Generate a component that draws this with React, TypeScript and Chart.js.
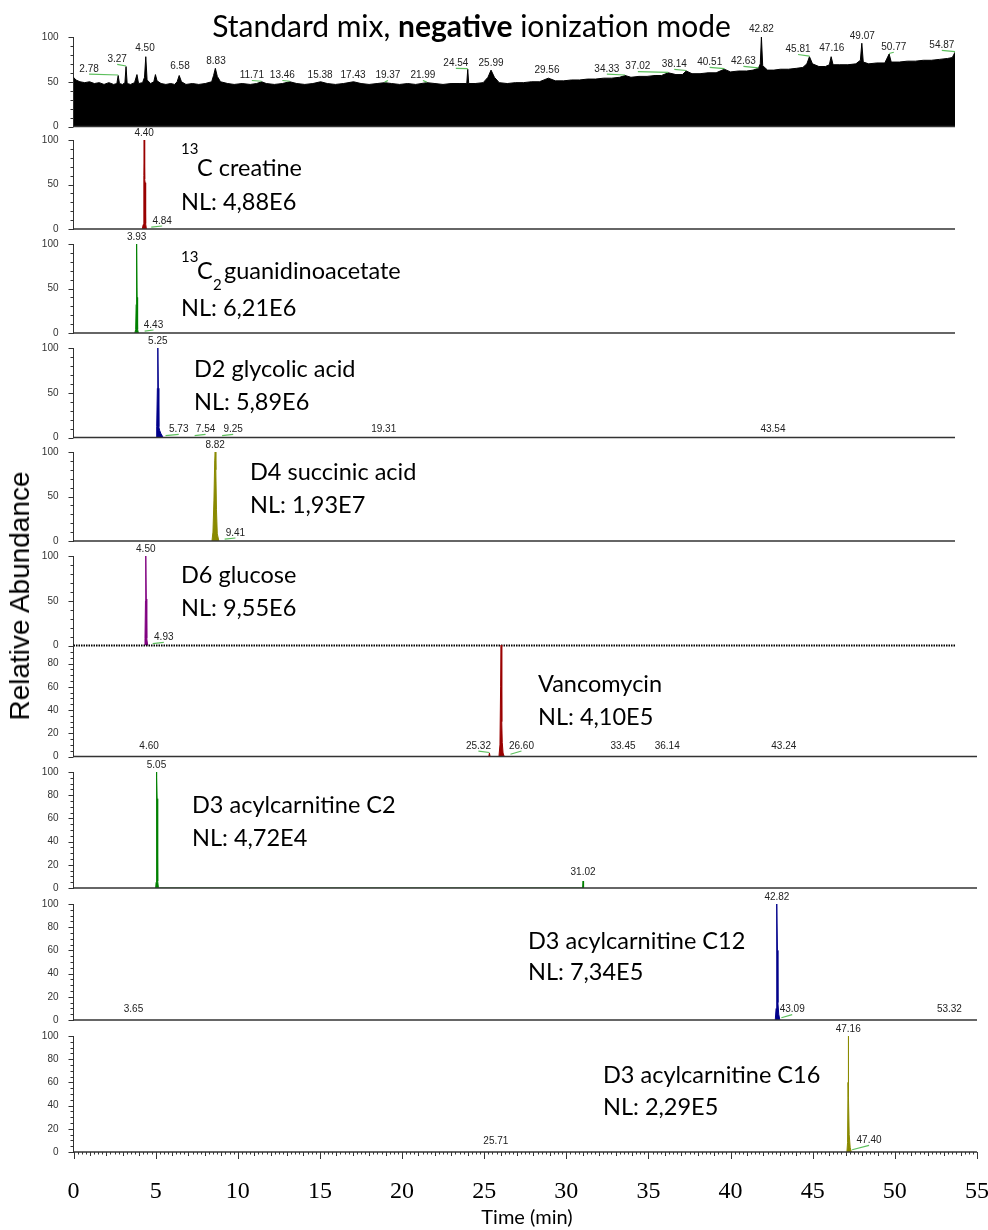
import React, { useEffect, useRef } from "react";
import { Chart, registerables } from "chart.js";
Chart.register(...registerables);

// ================= DATA =================
// Total ion chromatogram (top panel), time in min, relative abundance
const ticTimes = [0, 0.15, 0.4, 0.7, 1.0, 1.3, 1.6, 1.9, 2.2, 2.5, 2.7, 2.78, 2.86, 3.05, 3.2, 3.27, 3.34, 3.55, 3.8, 3.95, 4.05, 4.3, 4.42, 4.5, 4.58, 4.8, 5.0, 5.1, 5.2, 5.45, 5.75, 6.05, 6.3, 6.45, 6.58, 6.72, 7.0, 7.4, 7.8, 8.2, 8.6, 8.72, 8.83, 8.95, 9.15, 9.6, 10.0, 10.5, 11.0, 11.4, 11.71, 12.0, 12.5, 13.0, 13.46, 13.9, 14.4, 14.9, 15.38, 15.8, 16.3, 16.8, 17.43, 17.9, 18.4, 18.9, 19.37, 19.8, 20.3, 20.8, 21.3, 21.99, 22.5, 23.0, 23.5, 24.0, 24.48, 24.54, 24.6, 25.0, 25.5, 25.8, 25.99, 26.2, 26.5, 27.0, 27.5, 28.0, 28.5, 29.0, 29.56, 30.0, 30.5, 31.0, 31.5, 32.0, 32.5, 33.0, 33.5, 34.0, 34.33, 34.7, 35.2, 35.7, 36.2, 36.6, 37.02, 37.5, 37.9, 38.14, 38.5, 39.0, 39.5, 40.0, 40.51, 40.9, 41.4, 41.9, 42.3, 42.63, 42.75, 42.82, 42.9, 43.2, 43.6, 44.0, 44.5, 45.0, 45.4, 45.65, 45.81, 46.0, 46.4, 46.8, 47.05, 47.16, 47.28, 47.7, 48.2, 48.7, 48.98, 49.07, 49.16, 49.5, 50.0, 50.5, 50.77, 50.9, 51.4, 51.9, 52.4, 52.9, 53.4, 53.9, 54.4, 54.7, 54.87];
const ticValues = [55, 52, 50, 49, 50, 48, 49, 47, 49, 47, 48, 57, 48, 47, 49, 67, 48, 47, 49, 58, 48, 49, 55, 78, 52, 48, 50, 58, 51, 48, 47, 48, 47, 50, 57, 50, 47, 48, 47, 48, 50, 57, 65, 56, 50, 48, 47, 48, 47, 48, 50, 48, 47, 48, 50, 48, 47, 48, 50, 48, 47, 48, 50, 48, 47, 48, 49, 48, 47, 48, 47, 49, 48, 47, 48, 48, 48, 64, 48, 48, 49, 55, 63, 55, 49, 48, 49, 49, 50, 50, 54, 51, 51, 52, 52, 53, 53, 54, 54, 55, 57, 55, 56, 56, 57, 57, 60, 58, 58, 62, 59, 59, 60, 60, 64, 61, 62, 62, 63, 65, 70, 100, 68, 63, 63, 64, 64, 65, 66, 70, 78, 70, 67, 67, 69, 78, 69, 69, 69, 70, 74, 93, 72, 70, 71, 71, 81, 72, 72, 73, 73, 74, 74, 75, 76, 77, 83];
const ticPeakLabels = [2.78, 3.27, 4.5, 6.58, 8.83, 11.71, 13.46, 15.38, 17.43, 19.37, 21.99, 24.54, 25.99, 29.56, 34.33, 37.02, 38.14, 40.51, 42.63, 42.82, 45.81, 47.16, 49.07, 50.77, 54.87];

// 13C creatine
const creatineTimes = [4.28, 4.34, 4.38, 4.4, 4.43, 4.46, 4.49, 4.54];
const creatineValues = [0, 5, 60, 100, 56, 52, 6, 0];
const creatinePeakLabels = [4.4, 4.84];

// 13C2 guanidinoacetate
const gaaTimes = [3.82, 3.87, 3.9, 3.93, 3.96, 3.99, 4.04];
const gaaValues = [0, 4, 32, 100, 40, 4, 0];
const gaaPeakLabels = [3.93, 4.43];

// D2 glycolic acid
const glycolicTimes = [5.14, 5.18, 5.22, 5.25, 5.28, 5.31, 5.36, 5.45, 5.55, 5.6];
const glycolicValues = [0, 12, 55, 100, 55, 12, 8, 4, 1, 0];
const glycolicPeakLabels = [5.25, 5.73, 7.54, 9.25, 19.31, 43.54];

// D4 succinic acid
const succinicTimes = [8.62, 8.68, 8.74, 8.79, 8.82, 8.86, 8.9, 8.95, 9.05];
const succinicValues = [0, 10, 45, 90, 100, 80, 35, 8, 0];
const succinicPeakLabels = [8.82, 9.41];

// D6 glucose
const glucoseTimes = [4.4, 4.45, 4.48, 4.5, 4.53, 4.56, 4.62];
const glucoseValues = [0, 8, 50, 100, 52, 8, 0];
const glucosePeakLabels = [4.5, 4.93];

// Vancomycin
const vancoTimes = [25.28, 25.32, 25.36, 25.9, 25.96, 26.0, 26.03, 26.07, 26.1, 26.15, 26.22];
const vancoValues = [0, 3, 0, 0, 10, 60, 100, 30, 12, 3, 0];
const vancoPeakLabels = [4.6, 25.32, 26.6, 33.45, 36.14, 43.24];

// D3 acylcarnitine C2
const c2Times = [5.0, 5.03, 5.05, 5.07, 5.09, 5.11, 5.14, 5.17, 30.99, 31.02, 31.05];
const c2Values = [0, 5, 100, 95, 77, 8, 6, 0, 0, 6, 0];
const c2PeakLabels = [5.05, 31.02];

// D3 acylcarnitine C12
const c12Times = [42.72, 42.77, 42.8, 42.82, 42.85, 42.88, 42.93, 43.0];
const c12Values = [0, 10, 60, 100, 60, 15, 5, 0];
const c12PeakLabels = [3.65, 42.82, 43.09, 53.32];

// D3 acylcarnitine C16
const c16Times = [47.08, 47.12, 47.15, 47.16, 47.19, 47.22, 47.28, 47.35];
const c16Values = [0, 8, 60, 100, 47, 15, 4, 0];
const c16PeakLabels = [25.71, 47.16, 47.4];

// Axis tick labels
const yTicksSmall = [0, 50, 100];
const yTicksLarge = [0, 20, 40, 60, 80, 100];
const xTickLabels = [0, 5, 10, 15, 20, 25, 30, 35, 40, 45, 50, 55];

// ================= LABEL PLACEMENT (data coords: [time, value]) =================
const ticLabelPlace: [number, number][] = [
  [0.97, 64], [2.72, 75], [4.45, 87], [6.63, 67], [8.87, 73], [11.1, 57], [13.0, 57], [15.35, 57],
  [17.4, 57], [19.57, 57], [21.75, 57], [23.8, 70.5], [25.99, 71], [29.47, 63], [33.2, 64], [35.13, 67],
  [37.4, 69.4], [39.6, 71.7], [41.7, 72.8], [42.82, 108.6], [45.1, 86], [47.2, 87], [49.1, 101], [51.06, 88.5], [54.05, 90.7],
];
const creatinePlace: [number, number][] = [[4.4, 108], [5.52, 9]];
const gaaPlace: [number, number][] = [[3.93, 108], [4.98, 9]];
const glycolicPlace: [number, number][] = [[5.25, 108], [6.55, 9], [8.22, 9], [9.94, 9], [19.31, 9], [43.54, 9]];
const succinicPlace: [number, number][] = [[8.82, 108], [10.08, 9]];
const glucosePlace: [number, number][] = [[4.5, 108], [5.62, 9]];
const vancoPlace: [number, number][] = [[4.6, 9], [24.65, 9], [27.27, 9], [33.45, 9], [36.14, 9], [43.24, 9]];
const c2Place: [number, number][] = [[5.05, 106], [31.02, 14]];
const c12Place: [number, number][] = [[3.65, 9], [42.82, 106], [43.75, 9], [53.32, 9]];
const c16Place: [number, number][] = [[25.71, 9], [47.16, 106], [48.43, 10]];

// ================= STYLE =================
const C_RED = "#9a0000";
const C_GREEN = "#008000";
const C_NAVY = "#00008b";
const C_OLIVE = "#8a8a00";
const C_PURPLE = "#800080";
const C_LEAD = "#5cbf5c";
const AXIS = "#333333";
const LEFT = 73.5;
const PAD_TOP = 18;
const X_AXIS_H = 50;

type PanelCfg = {
  top: number; bottom: number; right: number; xMax: number; yMax: number;
  yTicks: number[]; yMinor: number; color: string;
  times: number[]; values: number[]; peaks: number[]; place: [number, number][];
  dotted?: boolean; bottomAxis?: boolean;
};

const panels: PanelCfg[] = [
  { top: 36.5, bottom: 126, right: 955, xMax: 54.87, yMax: 100, yTicks: yTicksSmall, yMinor: 10, color: "#000000", times: ticTimes, values: ticValues, peaks: ticPeakLabels, place: ticLabelPlace },
  { top: 140, bottom: 229, right: 955, xMax: 54.87, yMax: 100, yTicks: yTicksSmall, yMinor: 10, color: C_RED, times: creatineTimes, values: creatineValues, peaks: creatinePeakLabels, place: creatinePlace },
  { top: 244, bottom: 333, right: 955, xMax: 54.87, yMax: 100, yTicks: yTicksSmall, yMinor: 10, color: C_GREEN, times: gaaTimes, values: gaaValues, peaks: gaaPeakLabels, place: gaaPlace },
  { top: 347.5, bottom: 437, right: 955, xMax: 54.87, yMax: 100, yTicks: yTicksSmall, yMinor: 10, color: C_NAVY, times: glycolicTimes, values: glycolicValues, peaks: glycolicPeakLabels, place: glycolicPlace },
  { top: 452, bottom: 541, right: 955, xMax: 54.87, yMax: 100, yTicks: yTicksSmall, yMinor: 10, color: C_OLIVE, times: succinicTimes, values: succinicValues, peaks: succinicPeakLabels, place: succinicPlace },
  { top: 555.5, bottom: 645, right: 955, xMax: 54.87, yMax: 100, yTicks: yTicksSmall, yMinor: 10, color: C_PURPLE, times: glucoseTimes, values: glucoseValues, peaks: glucosePeakLabels, place: glucosePlace, dotted: true },
  { top: 645, bottom: 756.5, right: 977, xMax: 55, yMax: 96, yTicks: yTicksLarge, yMinor: 5, color: C_RED, times: vancoTimes, values: vancoValues, peaks: vancoPeakLabels, place: vancoPlace },
  { top: 772, bottom: 888, right: 977, xMax: 55, yMax: 100, yTicks: yTicksLarge, yMinor: 5, color: C_GREEN, times: c2Times, values: c2Values, peaks: c2PeakLabels, place: c2Place },
  { top: 904, bottom: 1020, right: 977, xMax: 55, yMax: 100, yTicks: yTicksLarge, yMinor: 5, color: C_NAVY, times: c12Times, values: c12Values, peaks: c12PeakLabels, place: c12Place },
  { top: 1036, bottom: 1152, right: 977, xMax: 55, yMax: 100, yTicks: yTicksLarge, yMinor: 5, color: C_OLIVE, times: c16Times, values: c16Values, peaks: c16PeakLabels, place: c16Place, bottomAxis: true },
];

function apexAt(cfg: PanelCfg, t: number): number {
  let best = -1, bd = 1e9;
  cfg.times.forEach((x, i) => { const d = Math.abs(x - t); if (d < bd) { bd = d; best = i; } });
  if (best >= 0 && bd < 0.03 && cfg.values[best] > 1.5) return cfg.values[best];
  return 1.5;
}

function canvasHeight(cfg: PanelCfg) {
  return Math.round(PAD_TOP + (cfg.bottom - cfg.top) + 8 + (cfg.bottomAxis ? X_AXIS_H : 0));
}

function Panel({ cfg }: { cfg: PanelCfg }) {
  const ref = useRef<HTMLCanvasElement | null>(null);
  const h = canvasHeight(cfg);
  const padBottom = h - PAD_TOP - (cfg.bottom - cfg.top) - (cfg.bottomAxis ? X_AXIS_H : 0);
  useEffect(() => {
    const canvas = ref.current;
    if (!canvas) return;
    const points = cfg.times.map((t, i) => ({ x: t, y: cfg.values[i] }));
    const yStep = cfg.yTicks[1] - cfg.yTicks[0];
    const decor = {
      id: "decor",
      afterDatasetsDraw(chart: any) {
        const { ctx, chartArea } = chart;
        const xs = chart.scales.x, ys = chart.scales.y;
        ctx.save();
        // baseline
        const y0 = ys.getPixelForValue(0);
        ctx.strokeStyle = cfg.dotted ? "#000" : AXIS;
        ctx.lineWidth = cfg.dotted ? 2 : 1.6;
        if (cfg.dotted) ctx.setLineDash([1.5, 1]);
        ctx.beginPath();
        ctx.moveTo(chartArea.left, y0);
        ctx.lineTo(chartArea.right, y0);
        ctx.stroke();
        ctx.setLineDash([]);
        // y tick marks
        ctx.strokeStyle = AXIS;
        ctx.lineWidth = 1;
        for (let v = 0; v <= cfg.yMax + 1e-6; v += cfg.yMinor) {
          const py = Math.round(ys.getPixelForValue(v)) + 0.5;
          const major = Math.abs(v / yStep - Math.round(v / yStep)) < 1e-6;
          const len = major ? 5 : 3;
          ctx.beginPath();
          ctx.moveTo(chartArea.left - len, py);
          ctx.lineTo(chartArea.left, py);
          ctx.stroke();
        }
        // x tick marks (bottom panel)
        if (cfg.bottomAxis) {
          for (let k = 0; k <= cfg.xMax * 4 + 1e-6; k++) {
            const t = k / 4;
            const px = Math.round(xs.getPixelForValue(t)) + 0.5;
            const len = k % 20 === 0 ? 7 : k % 4 === 0 ? 4 : 2.5;
            ctx.beginPath();
            ctx.moveTo(px, y0);
            ctx.lineTo(px, y0 + len);
            ctx.stroke();
          }
        }
        // peak labels
        ctx.font = '10px "Liberation Sans", Arial, sans-serif';
        ctx.textAlign = "center";
        ctx.textBaseline = "middle";
        cfg.peaks.forEach((t, i) => {
          const [lt, lv] = cfg.place[i];
          const apex = apexAt(cfg, t);
          const px = xs.getPixelForValue(t), py = ys.getPixelForValue(apex);
          const lx = xs.getPixelForValue(lt), ly = ys.getPixelForValue(lv);
          if (Math.abs(lx - px) > 3) {
            ctx.strokeStyle = C_LEAD;
            ctx.lineWidth = 1.2;
            ctx.beginPath();
            ctx.moveTo(lx, ly + 5);
            ctx.lineTo(px, py - 0.5);
            ctx.stroke();
          }
          ctx.fillStyle = "#222";
          ctx.fillText(t.toFixed(2), lx, ly);
        });
        ctx.restore();
      },
    };
    const chart = new Chart(canvas, {
      type: "line",
      data: {
        datasets: [{
          data: points,
          borderColor: cfg.color,
          backgroundColor: cfg.color,
          fill: "origin",
          borderWidth: 1,
          pointRadius: 0,
          tension: 0,
        }],
      },
      options: {
        animation: false,
        responsive: false,
        maintainAspectRatio: false,
        events: [],
        layout: { padding: { top: PAD_TOP, bottom: padBottom, left: 0, right: 988 - cfg.right } },
        plugins: { legend: { display: false }, tooltip: { enabled: false } },
        scales: {
          x: {
            type: "linear",
            min: 0,
            max: cfg.xMax,
            display: !!cfg.bottomAxis,
            grid: { display: false },
            border: { display: false },
            afterBuildTicks: (s: any) => { s.ticks = xTickLabels.map((v) => ({ value: v })); },
            afterFit: (s: any) => {
              s.height = cfg.bottomAxis ? X_AXIS_H : 0;
              s.paddingLeft = 0; s.paddingRight = 0;
            },
            ticks: {
              autoSkip: false,
              maxRotation: 0,
              padding: 17,
              color: "#000",
              font: { family: '"Liberation Serif", "Times New Roman", serif', size: 24 },
              callback: (v: any) => String(v),
            },
          },
          y: {
            min: 0,
            max: cfg.yMax,
            afterBuildTicks: (s: any) => { s.ticks = cfg.yTicks.filter((v) => v <= cfg.yMax).map((v) => ({ value: v })); },
            afterFit: (s: any) => { s.width = LEFT; s.paddingTop = 0; s.paddingBottom = 0; },
            grid: { display: false },
            border: { display: true, color: AXIS, width: 1 },
            ticks: {
              autoSkip: false,
              padding: 7,
              color: "#333",
              font: { family: '"Liberation Sans", Arial, sans-serif', size: 10 },
              callback: (v: any) => String(v),
            },
          },
        },
      },
      plugins: [decor],
    } as any);
    return () => chart.destroy();
  }, [cfg]);
  return (
    <canvas
      ref={ref}
      width={988}
      height={h}
      style={{ position: "absolute", left: 0, top: cfg.top - PAD_TOP, width: 988, height: h, display: "block" }}
    />
  );
}

const FONT = 'Lato, "Open Sans", sans-serif';
const LBL = 23.5;

function Txt({ x, y, size, children }: { x: number; y: number; size: number; children: any }) {
  return (
    <div style={{ position: "absolute", left: x, top: y, transform: "translateY(-50%)", fontFamily: FONT, fontSize: size, lineHeight: 1, whiteSpace: "nowrap", color: "#000" }}>
      {children}
    </div>
  );
}

export default function App() {
  return (
    <div style={{ position: "absolute", left: 0, top: 0, width: 988, height: 1230, background: "#fff", overflow: "hidden" }}>
      {panels.map((p, i) => <Panel key={i} cfg={p} />)}

      <div style={{ position: "absolute", left: 471.5, top: 25, transform: "translate(-50%, -50%)", fontFamily: FONT, fontSize: 30, lineHeight: 1, whiteSpace: "nowrap", color: "#000" }}>
        Standard mix, <b>negative</b> ionization mode
      </div>

      <Txt x={181} y={148} size={15}>13</Txt>
      <Txt x={197} y={168} size={LBL}>C creatine</Txt>
      <Txt x={181} y={202} size={LBL}>NL: 4,88E6</Txt>

      <Txt x={181} y={256} size={15}>13</Txt>
      <Txt x={197} y={271} size={LBL}>C</Txt>
      <Txt x={213} y={284} size={15}>2</Txt>
      <Txt x={224} y={271} size={LBL}>guanidinoacetate</Txt>
      <Txt x={181} y={308} size={LBL}>NL: 6,21E6</Txt>

      <Txt x={194} y={369} size={LBL}>D2 glycolic acid</Txt>
      <Txt x={194} y={402} size={LBL}>NL: 5,89E6</Txt>

      <Txt x={250} y={472} size={LBL}>D4 succinic acid</Txt>
      <Txt x={250} y={505} size={LBL}>NL: 1,93E7</Txt>

      <Txt x={181} y={575} size={LBL}>D6 glucose</Txt>
      <Txt x={181} y={608} size={LBL}>NL: 9,55E6</Txt>

      <Txt x={538} y={684} size={LBL}>Vancomycin</Txt>
      <Txt x={538} y={717} size={LBL}>NL: 4,10E5</Txt>

      <Txt x={192} y={805} size={LBL}>D3 acylcarnitine C2</Txt>
      <Txt x={192} y={838} size={LBL}>NL: 4,72E4</Txt>

      <Txt x={528} y={941} size={LBL}>D3 acylcarnitine C12</Txt>
      <Txt x={528} y={972} size={LBL}>NL: 7,34E5</Txt>

      <Txt x={603} y={1075} size={LBL}>D3 acylcarnitine C16</Txt>
      <Txt x={603} y={1107} size={LBL}>NL: 2,29E5</Txt>

      <div style={{ position: "absolute", left: 20, top: 596, transform: "translate(-50%, -50%) rotate(-90deg)", fontFamily: '"Liberation Sans", Arial, sans-serif', fontSize: 28, lineHeight: 1, whiteSpace: "nowrap", color: "#000" }}>
        Relative Abundance
      </div>

      <div style={{ position: "absolute", left: 527, top: 1216, transform: "translate(-50%, -50%)", fontFamily: FONT, fontSize: 20, lineHeight: 1, whiteSpace: "nowrap", color: "#000" }}>
        Time (min)
      </div>
    </div>
  );
}
